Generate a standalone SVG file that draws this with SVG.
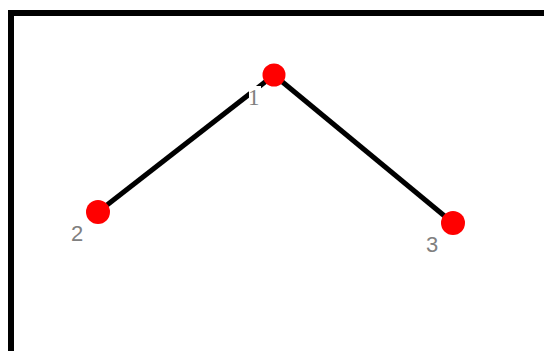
<svg xmlns="http://www.w3.org/2000/svg" width="544" height="351" viewBox="0 0 544 351">
<style>
.edge{stroke:#000;stroke-width:5;fill:none}
.node{fill:#f00}
.lbl{fill:#808080;font-family:"Liberation Sans",sans-serif;font-size:22px}
.lbl1{fill:#808080;font-family:"Liberation Serif",serif;font-size:23px}
</style>
<rect x="0" y="0" width="544" height="351" fill="#fff"/>
<rect x="11" y="13" width="560" height="360" fill="none" stroke="#000" stroke-width="6"/>
<g id="connectors">
<line class="edge" x1="98" y1="212" x2="274" y2="75"/>
<line class="edge" x1="274" y1="75" x2="453" y2="223"/>
</g>
<g id="node1">
<rect x="249" y="86" width="12" height="19" fill="#fff"/>
<circle class="node" cx="274" cy="75" r="11.5"/>
<text class="lbl1" x="248" y="105">1</text>
</g>
<g id="node2">
<circle class="node" cx="98" cy="212" r="12"/>
<text class="lbl" x="71" y="241">2</text>
</g>
<g id="node3">
<circle class="node" cx="453" cy="223" r="12"/>
<text class="lbl" x="426" y="252">3</text>
</g>
</svg>
